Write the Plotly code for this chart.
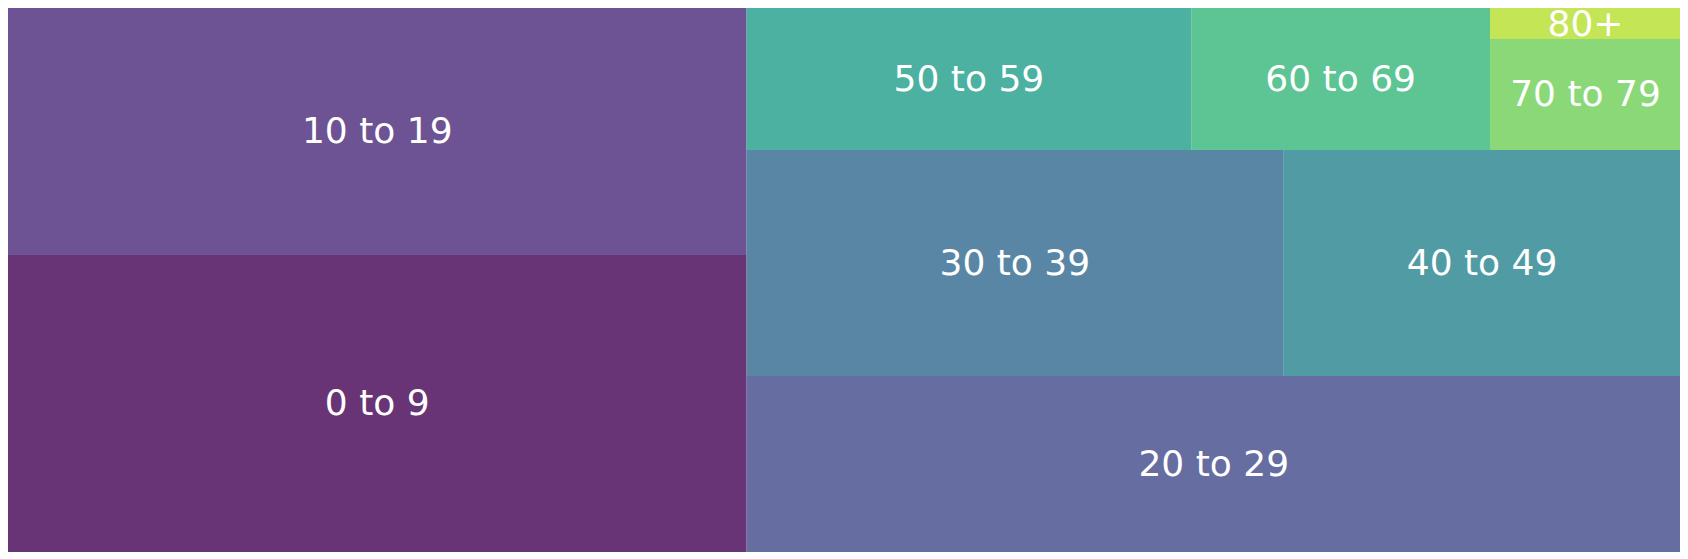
import plotly.graph_objects as go
import plotly.colors as pc

labels = ["0 to 9", "10 to 19", "20 to 29", "30 to 39", "40 to 49",
          "50 to 59", "60 to 69", "70 to 79", "80+"]
values = [24.10, 20.04, 18.07, 13.33, 9.88, 6.94, 4.66, 2.33, 0.65]
colors = pc.sequential.Viridis[:9]
ALPHA = 0.8
NORM_X, NORM_Y = 100.0, 100.0
PLOT_W, PLOT_H = 1673, 544
TEXT_DROP_PX = 3  # small downward nudge of labels, in pixels


# --- squarify algorithm (Laserson) ---
def normalize_sizes(sizes, dx, dy):
    total = sum(sizes)
    return [s * dx * dy / total for s in sizes]


def layoutrow(sizes, x, y, dx, dy):
    w = sum(sizes) / dy
    rects = []
    for s in sizes:
        rects.append((x, y, w, s / w))
        y += s / w
    return rects


def layoutcol(sizes, x, y, dx, dy):
    h = sum(sizes) / dx
    rects = []
    for s in sizes:
        rects.append((x, y, s / h, h))
        x += s / h
    return rects


def layout(sizes, x, y, dx, dy):
    return layoutrow(sizes, x, y, dx, dy) if dx >= dy else layoutcol(sizes, x, y, dx, dy)


def leftover(sizes, x, y, dx, dy):
    if dx >= dy:
        w = sum(sizes) / dy
        return x + w, y, dx - w, dy
    h = sum(sizes) / dx
    return x, y + h, dx, dy - h


def worst_ratio(sizes, x, y, dx, dy):
    return max(max(r[2] / r[3], r[3] / r[2]) for r in layout(sizes, x, y, dx, dy))


def squarify(sizes, x, y, dx, dy):
    if not sizes:
        return []
    if len(sizes) == 1:
        return layout(sizes, x, y, dx, dy)
    i = 1
    while i < len(sizes) and worst_ratio(sizes[:i], x, y, dx, dy) >= worst_ratio(sizes[:i + 1], x, y, dx, dy):
        i += 1
    cur, rem = sizes[:i], sizes[i:]
    lx, ly, ldx, ldy = leftover(cur, x, y, dx, dy)
    return layout(cur, x, y, dx, dy) + squarify(rem, lx, ly, ldx, ldy)


rects = squarify(normalize_sizes(values, NORM_X, NORM_Y), 0.0, 0.0, NORM_X, NORM_Y)


def rgba(hexc, a):
    h = hexc.lstrip("#")
    r, g, b = int(h[0:2], 16), int(h[2:4], 16), int(h[4:6], 16)
    return f"rgba({r},{g},{b},{a})"


fig = go.Figure()
shapes = []
for (x, y, dx, dy), c in zip(rects, colors):
    shapes.append(dict(type="rect", xref="x", yref="y", x0=x, x1=x + dx, y0=y, y1=y + dy,
                       fillcolor=rgba(c, ALPHA), line=dict(width=0), layer="below"))

drop = TEXT_DROP_PX * NORM_Y / PLOT_H
fig.add_trace(go.Scatter(
    x=[r[0] + r[2] / 2 for r in rects],
    y=[r[1] + r[3] / 2 - drop for r in rects],
    text=labels, mode="text", textposition="middle center",
    textfont=dict(family="DejaVu Sans", size=36, color="white"),
    hoverinfo="skip", showlegend=False, cliponaxis=False,
))

fig.update_layout(
    width=PLOT_W, height=PLOT_H,
    margin=dict(l=0, r=0, t=0, b=0),
    paper_bgcolor="white", plot_bgcolor="white",
    shapes=shapes,
    xaxis=dict(range=[0, NORM_X], visible=False, fixedrange=True),
    yaxis=dict(range=[0, NORM_Y], visible=False, fixedrange=True),
)

fig.write_html("out.html")
